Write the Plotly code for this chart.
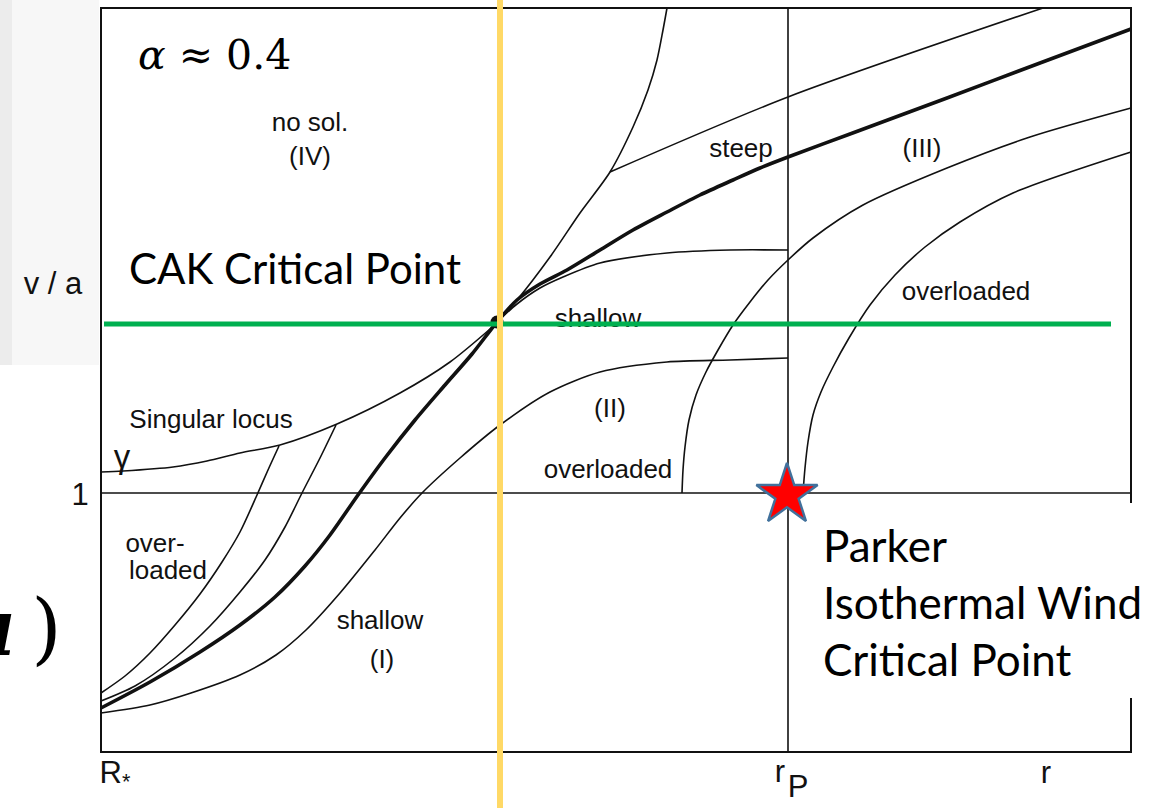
import plotly.graph_objects as go

# Schematic coordinates: X = distance to the right of R*, Y = height above the bottom axis
R_STAR, R_P, R_MAX = 0, 687, 1030
V_ONE, V_TOP = 259, 744
X_RANGE = [-101, 1062]
Y_RANGE = [-56, 752]

# ---- solution curves ----
locus_x = [0, 22, 72, 106, 139, 179, 236, 299, 349, 396]
locus_y = [280, 281, 285, 291, 299, 307, 328, 359, 390, 429]

over_a_x = [0, 24, 49, 74, 99, 121, 139, 156, 167, 178]
over_a_y = [59, 76, 99, 127, 158, 190, 220, 257, 282, 306]

over_b_x = [0, 34, 74, 109, 139, 164, 184, 201, 219, 235]
over_b_y = [51, 66, 94, 126, 160, 192, 225, 259, 294, 327]

crit_x = [0, 49, 99, 139, 174, 204, 229, 257, 284, 314, 344, 371, 396,
          416, 439, 466, 499, 532, 566, 599, 632, 659, 687, 749, 846, 939, 1030]
crit_y = [44, 70, 100, 127, 155, 186, 217, 257, 294, 332, 367, 398, 430,
          452, 468, 482, 502, 522, 540, 557, 572, 584, 595, 618, 654, 689, 723]

shallow_x = [0, 49, 90, 139, 175, 205, 239, 274, 299, 321, 359, 399, 449, 499, 566, 629, 687]
shallow_y = [39, 47, 59, 77, 97, 122, 159, 202, 234, 259, 294, 327, 360, 380, 390, 392, 394]

upper_shallow_x = [396, 416, 439, 462, 499, 566, 629, 687]
upper_shallow_y = [430, 448, 464, 475, 489, 499, 502, 502]

steep_x = [396, 416, 449, 479, 509, 532, 547, 556, 562, 566]
steep_y = [430, 452, 495, 539, 580, 625, 662, 692, 722, 744]

steep_top_x = [509, 687, 942]
steep_top_y = [580, 655, 744]

over_ii_x = [581, 582, 584, 588, 595, 605, 617, 632, 649, 667, 687, 712, 762, 846, 929, 1030]
over_ii_y = [259, 282, 305, 332, 357, 380, 402, 427, 450, 472, 492, 514, 547, 584, 615, 644]

over_iii_x = [702, 704, 707, 712, 720, 732, 748, 769, 794, 824, 859, 912, 1030]
over_iii_y = [259, 284, 310, 337, 360, 385, 414, 447, 477, 505, 530, 559, 600]

# ---- highlighted points / guide lines ----
cak_point = (396, 430)
parker_point = (686, 257)
cak_level_y = 428
cak_level_x = [3, 1010]
cak_radius_x = 399

# ---- labels ----
small_labels = ["no sol.", "(IV)", "steep", "(III)", "overloaded", "shallow", "(II)",
                "overloaded", "Singular locus", "over-", "loaded", "shallow", "(I)"]
small_x = [209, 209, 640, 821, 865, 497, 509, 507, 110, 54, 67, 279, 281]
small_y = [628, 594, 602, 602, 459, 432, 342, 281, 331, 207, 180, 130, 91]

gamma_label = ["γ"]
gamma_x = [21]
gamma_y = [292]

axis_labels = ["v / a", "1", "R<sub>*</sub>", "r", "P", "r"]
axis_x = [-48, -21, 14, 679, 697, 945]
axis_y = [466, 255, -23, -22, -37, -23]

big_labels = ["<i>α</i> ≈ 0.4", "CAK Critical Point", "Parker", "Isothermal Wind",
              "Critical Point"]
big_x = [35, 26, 720, 720, 720]
big_y = [697, 484, 207, 150, 93]
big_sizes = [41, 42, 44, 44, 44]

fig = go.Figure()

BLACK = "#111111"

# frame
frame_x = [R_MAX, R_MAX, R_STAR, R_STAR, R_MAX, R_MAX]
frame_y = [249, V_TOP, V_TOP, 0, 0, 54]
fig.add_trace(go.Scatter(x=frame_x, y=frame_y, mode="lines",
                         line=dict(color=BLACK, width=2)))
fig.add_trace(go.Scatter(x=[R_STAR, R_MAX], y=[V_ONE, V_ONE], mode="lines",
                         line=dict(color=BLACK, width=1.6)))
fig.add_trace(go.Scatter(x=[R_P, R_P], y=[0, V_TOP], mode="lines",
                         line=dict(color=BLACK, width=1.6)))

curves = [
    (locus_x, locus_y, 1.6),
    (over_a_x, over_a_y, 1.6),
    (over_b_x, over_b_y, 1.6),
    (crit_x, crit_y, 3.6),
    (shallow_x, shallow_y, 1.6),
    (upper_shallow_x, upper_shallow_y, 1.6),
    (steep_x, steep_y, 1.6),
    (steep_top_x, steep_top_y, 1.6),
    (over_ii_x, over_ii_y, 1.6),
    (over_iii_x, over_iii_y, 1.6),
]
for cx, cy, w in curves:
    fig.add_trace(go.Scatter(x=cx, y=cy, mode="lines",
                             line=dict(color=BLACK, width=w, shape="spline", smoothing=0.8)))

fig.add_trace(go.Scatter(x=[cak_point[0]], y=[cak_point[1]], mode="markers",
                         marker=dict(color=BLACK, size=13)))

# small labels
fig.add_trace(go.Scatter(x=small_x, y=small_y, mode="text", text=small_labels,
                         textposition="middle center",
                         textfont=dict(family="Liberation Sans, Arial", size=26, color=BLACK)))
fig.add_trace(go.Scatter(x=gamma_x, y=gamma_y, mode="text", text=gamma_label,
                         textposition="middle center",
                         textfont=dict(family="Liberation Sans, Arial", size=33, color=BLACK)))
fig.add_trace(go.Scatter(x=axis_x, y=axis_y, mode="text", text=axis_labels,
                         textposition="middle center",
                         textfont=dict(family="Liberation Sans, Arial", size=31, color=BLACK)))

# green horizontal and yellow vertical guide lines
fig.add_trace(go.Scatter(x=cak_level_x, y=[cak_level_y, cak_level_y], mode="lines",
                         line=dict(color="#00B050", width=5)))
fig.add_trace(go.Scatter(x=[cak_radius_x, cak_radius_x], y=Y_RANGE, mode="lines",
                         line=dict(color="#FFD966", width=6)))

# Parker critical point star
fig.add_trace(go.Scatter(x=[parker_point[0]], y=[parker_point[1]], mode="markers",
                         marker=dict(symbol="star", size=46, color="#FF0000",
                                     line=dict(color="#41719C", width=2.5))))

# big overlay texts
for i, (t, bx, by, bs) in enumerate(zip(big_labels, big_x, big_y, big_sizes)):
    fam = "DejaVu Serif" if i == 0 else "Lato, Carlito, Open Sans"
    fig.add_annotation(x=bx, y=by, xref="x", yref="y", text=t, showarrow=False,
                       xanchor="left", yanchor="middle",
                       font=dict(family=fam, size=bs, color="#000000"))

fig.add_annotation(x=-37, y=125, xref="x", yref="y", text="<b><i>u</i></b>\u2009)",
                   showarrow=False, xanchor="right", yanchor="middle",
                   font=dict(family="DejaVu Serif", size=78, color="#000000"))

# light grey strip on the left
fig.add_shape(type="rect", x0=X_RANGE[0], x1=-89, y0=387, y1=Y_RANGE[1], xref="x", yref="y",
              fillcolor="#ECECEC", line=dict(width=0), layer="below")
fig.add_shape(type="rect", x0=-89, x1=-2, y0=387, y1=Y_RANGE[1], xref="x", yref="y",
              fillcolor="#F7F7F7", line=dict(width=0), layer="below")

fig.update_layout(
    width=1163, height=808,
    margin=dict(l=0, r=0, t=0, b=0),
    paper_bgcolor="white", plot_bgcolor="white",
    showlegend=False,
    xaxis=dict(range=X_RANGE, visible=False, fixedrange=True),
    yaxis=dict(range=Y_RANGE, visible=False, fixedrange=True),
)

fig.write_html("out.html")
